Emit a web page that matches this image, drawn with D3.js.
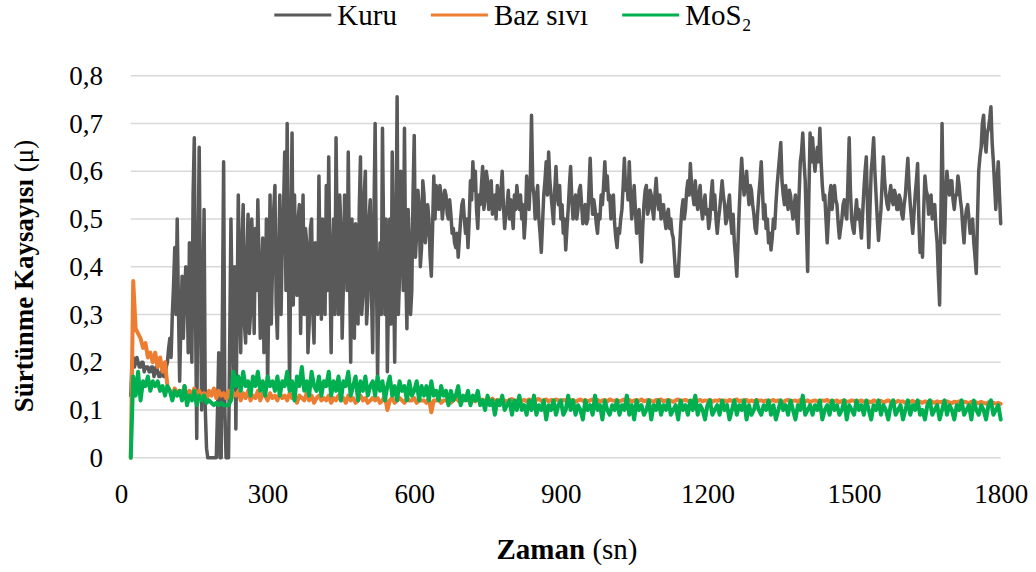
<!DOCTYPE html>
<html>
<head>
<meta charset="utf-8">
<script src="https://cdn.jsdelivr.net/npm/d3@7"></script>
<style>
  body { margin: 0; background: #ffffff; }
  svg text { font-family: "Liberation Serif", "DejaVu Serif", "Noto Serif", Times, serif; fill: #000000; }
</style>
</head>
<body>
<div id="chart"></div>
<script>
var svgWidth = 1036;
var svgHeight = 572;

var margin = {
  top: 75.7,
  right: 35.3,
  bottom: 114.3,
  left: 121
};

var width = svgWidth - margin.left - margin.right;
var height = svgHeight - margin.top - margin.bottom;

var fontStack = "'Liberation Serif', 'DejaVu Serif', 'Noto Serif', Times, serif";

// sample times: first reading at 20 s; dry test read every 2.5 s, the fluids every 5 s
var startTime = 20;
var kuruStep = 2.5;
var fluidStep = 5;

var kuru = [
  0.13, 0.20, 0.21, 0.19, 0.20, 0.21, 0.20, 0.19, 0.19, 0.20, 0.20, 0.18, 0.19, 0.19, 0.19, 0.18, 0.18, 0.19, 0.19, 0.17,
  0.18, 0.19, 0.18, 0.17, 0.17, 0.18, 0.18, 0.17, 0.17, 0.19, 0.20, 0.23, 0.25, 0.21, 0.30, 0.36, 0.44, 0.30, 0.50, 0.32,
  0.16, 0.28, 0.38, 0.25, 0.33, 0.40, 0.38, 0.22, 0.45, 0.30, 0.20, 0.55, 0.67, 0.30, 0.04, 0.40, 0.65, 0.35, 0.10, 0.30,
  0.52, 0.10, 0.02, 0.00, 0.00, 0.00, 0.00, 0.00, 0.00, 0.00, 0.00, 0.10, 0.22, 0.00, 0.00, 0.30, 0.62, 0.10, 0.00, 0.00,
  0.00, 0.25, 0.50, 0.30, 0.15, 0.40, 0.06, 0.30, 0.55, 0.35, 0.22, 0.45, 0.53, 0.28, 0.24, 0.42, 0.51, 0.26, 0.30, 0.50,
  0.44, 0.26, 0.48, 0.35, 0.54, 0.40, 0.25, 0.38, 0.46, 0.22, 0.30, 0.50, 0.15, 0.35, 0.55, 0.28, 0.40, 0.52, 0.57, 0.32,
  0.25, 0.42, 0.55, 0.30, 0.45, 0.52, 0.64, 0.35, 0.70, 0.40, 0.14, 0.45, 0.68, 0.32, 0.55, 0.42, 0.34, 0.50, 0.53, 0.26,
  0.40, 0.55, 0.30, 0.48, 0.45, 0.22, 0.28, 0.48, 0.50, 0.30, 0.24, 0.45, 0.42, 0.30, 0.59, 0.38, 0.29, 0.50, 0.45, 0.30,
  0.57, 0.35, 0.63, 0.40, 0.22, 0.42, 0.50, 0.30, 0.67, 0.45, 0.30, 0.55, 0.48, 0.25, 0.36, 0.55, 0.52, 0.35, 0.64, 0.40,
  0.20, 0.50, 0.42, 0.25, 0.49, 0.38, 0.28, 0.52, 0.63, 0.30, 0.34, 0.55, 0.60, 0.28, 0.33, 0.50, 0.54, 0.35, 0.22, 0.50,
  0.70, 0.40, 0.17, 0.35, 0.45, 0.30, 0.69, 0.45, 0.30, 0.50, 0.18, 0.35, 0.50, 0.28, 0.64, 0.42, 0.20, 0.45, 0.756, 0.30,
  0.38, 0.60, 0.55, 0.35, 0.69, 0.40, 0.27, 0.52, 0.455, 0.30, 0.35, 0.55, 0.675, 0.42, 0.47, 0.56, 0.53, 0.40, 0.44, 0.58,
  0.55, 0.45, 0.48, 0.53, 0.50, 0.42, 0.38, 0.48, 0.59, 0.50, 0.57, 0.53, 0.52, 0.57, 0.55, 0.50, 0.53, 0.56, 0.55, 0.51,
  0.50, 0.54, 0.51, 0.47, 0.48, 0.45, 0.44, 0.47, 0.42, 0.46, 0.50, 0.53, 0.54, 0.50, 0.47, 0.50, 0.44, 0.50, 0.58, 0.54,
  0.62, 0.56, 0.60, 0.52, 0.48, 0.55, 0.53, 0.57, 0.61, 0.52, 0.54, 0.60, 0.58, 0.52, 0.55, 0.58, 0.51, 0.53, 0.55, 0.50,
  0.57, 0.54, 0.52, 0.56, 0.60, 0.53, 0.48, 0.51, 0.53, 0.56, 0.50, 0.54, 0.51, 0.48, 0.55, 0.52, 0.57, 0.54, 0.52, 0.55,
  0.50, 0.53, 0.46, 0.50, 0.59, 0.54, 0.52, 0.58, 0.717, 0.57, 0.55, 0.50, 0.54, 0.57, 0.50, 0.47, 0.43, 0.49, 0.55, 0.58,
  0.62, 0.55, 0.64, 0.58, 0.55, 0.52, 0.49, 0.56, 0.61, 0.55, 0.53, 0.57, 0.50, 0.53, 0.47, 0.50, 0.435, 0.48, 0.52, 0.57,
  0.61, 0.54, 0.50, 0.53, 0.55, 0.50, 0.52, 0.56, 0.57, 0.53, 0.49, 0.52, 0.53, 0.49, 0.50, 0.56, 0.627, 0.55, 0.51, 0.54,
  0.52, 0.49, 0.47, 0.51, 0.50, 0.55, 0.53, 0.57, 0.62, 0.56, 0.59, 0.54, 0.55, 0.50, 0.52, 0.55, 0.49, 0.46, 0.44, 0.48,
  0.47, 0.50, 0.52, 0.57, 0.627, 0.56, 0.58, 0.54, 0.62, 0.55, 0.50, 0.53, 0.57, 0.52, 0.47, 0.50, 0.52, 0.46, 0.41, 0.48,
  0.53, 0.56, 0.57, 0.51, 0.52, 0.56, 0.55, 0.52, 0.50, 0.55, 0.585, 0.54, 0.52, 0.55, 0.50, 0.52, 0.53, 0.50, 0.48, 0.51,
  0.52, 0.48, 0.50, 0.47, 0.46, 0.42, 0.38, 0.40, 0.38, 0.43, 0.48, 0.52, 0.54, 0.50, 0.52, 0.56, 0.58, 0.55, 0.616, 0.57,
  0.55, 0.53, 0.58, 0.54, 0.52, 0.55, 0.57, 0.52, 0.50, 0.53, 0.55, 0.51, 0.52, 0.48, 0.50, 0.55, 0.58, 0.52, 0.55, 0.50,
  0.47, 0.50, 0.52, 0.55, 0.58, 0.55, 0.53, 0.49, 0.50, 0.53, 0.55, 0.50, 0.47, 0.51, 0.45, 0.42, 0.38, 0.45, 0.52, 0.58,
  0.627, 0.58, 0.55, 0.57, 0.60, 0.56, 0.53, 0.57, 0.56, 0.53, 0.51, 0.48, 0.47, 0.51, 0.55, 0.58, 0.62, 0.56, 0.50, 0.53,
  0.48, 0.50, 0.45, 0.47, 0.435, 0.46, 0.50, 0.48, 0.53, 0.57, 0.60, 0.63, 0.66, 0.58, 0.55, 0.53, 0.57, 0.54, 0.52, 0.56,
  0.55, 0.52, 0.50, 0.53, 0.55, 0.50, 0.47, 0.55, 0.62, 0.64, 0.68, 0.62, 0.58, 0.48, 0.39, 0.55, 0.68, 0.62, 0.67, 0.63,
  0.60, 0.63, 0.65, 0.62, 0.69, 0.62, 0.57, 0.54, 0.55, 0.50, 0.45, 0.50, 0.55, 0.57, 0.52, 0.55, 0.57, 0.54, 0.53, 0.49,
  0.46, 0.48, 0.50, 0.53, 0.54, 0.51, 0.50, 0.58, 0.67, 0.56, 0.50, 0.48, 0.47, 0.51, 0.54, 0.50, 0.52, 0.49, 0.46, 0.51,
  0.56, 0.60, 0.63, 0.52, 0.44, 0.52, 0.60, 0.63, 0.67, 0.60, 0.55, 0.50, 0.455, 0.49, 0.52, 0.58, 0.63, 0.58, 0.55, 0.53,
  0.52, 0.55, 0.57, 0.54, 0.53, 0.56, 0.55, 0.52, 0.52, 0.55, 0.54, 0.51, 0.50, 0.53, 0.55, 0.59, 0.627, 0.57, 0.53, 0.50,
  0.47, 0.51, 0.55, 0.58, 0.616, 0.50, 0.43, 0.46, 0.42, 0.52, 0.59, 0.56, 0.55, 0.51, 0.53, 0.55, 0.50, 0.52, 0.53, 0.48,
  0.45, 0.38, 0.32, 0.50, 0.70, 0.52, 0.45, 0.55, 0.60, 0.57, 0.55, 0.58, 0.58, 0.54, 0.52, 0.55, 0.55, 0.59, 0.57, 0.54,
  0.52, 0.48, 0.45, 0.50, 0.52, 0.53, 0.50, 0.47, 0.48, 0.50, 0.45, 0.42, 0.386, 0.50, 0.60, 0.63, 0.65, 0.70, 0.717, 0.66,
  0.64, 0.68, 0.69, 0.71, 0.735, 0.66, 0.62, 0.57, 0.52, 0.58, 0.62, 0.55, 0.49
];

var bazSivi = [
  0.00, 0.37, 0.27, 0.26, 0.25, 0.23, 0.24, 0.21, 0.22, 0.20, 0.22, 0.19, 0.21, 0.18, 0.20, 0.15, 0.14, 0.13, 0.145, 0.135,
  0.14, 0.13, 0.15, 0.125, 0.14, 0.13, 0.145, 0.125, 0.14, 0.13, 0.135, 0.12, 0.14, 0.13, 0.145, 0.125, 0.14, 0.13, 0.135, 0.125,
  0.14, 0.12, 0.135, 0.13, 0.14, 0.12, 0.135, 0.125, 0.14, 0.12, 0.13, 0.125, 0.14, 0.12, 0.135, 0.13, 0.12, 0.135, 0.125, 0.13,
  0.12, 0.135, 0.125, 0.13, 0.12, 0.135, 0.125, 0.13, 0.115, 0.13, 0.125, 0.12, 0.135, 0.12, 0.13, 0.115, 0.125, 0.13, 0.12, 0.125,
  0.12, 0.13, 0.115, 0.125, 0.12, 0.13, 0.12, 0.125, 0.115, 0.13, 0.12, 0.125, 0.115, 0.12, 0.13, 0.12, 0.125, 0.115, 0.12, 0.125,
  0.12, 0.125, 0.115, 0.12, 0.13, 0.10, 0.12, 0.125, 0.115, 0.12, 0.125, 0.12, 0.115, 0.125, 0.12, 0.12, 0.125, 0.115, 0.12, 0.12,
  0.12, 0.115, 0.125, 0.095, 0.12, 0.12, 0.125, 0.115, 0.12, 0.12, 0.125, 0.115, 0.12, 0.125, 0.12, 0.115, 0.12, 0.125, 0.12, 0.12,
  0.121, 0.118, 0.123, 0.119, 0.122, 0.117, 0.121, 0.12, 0.124, 0.118, 0.121, 0.119, 0.122, 0.12, 0.117, 0.121, 0.123, 0.119, 0.12, 0.122,
  0.119, 0.121, 0.118, 0.122, 0.12, 0.117, 0.121, 0.123, 0.119, 0.12, 0.122, 0.118, 0.121, 0.119, 0.122, 0.12, 0.118, 0.121, 0.12, 0.123,
  0.119, 0.121, 0.117, 0.12, 0.122, 0.119, 0.121, 0.118, 0.12, 0.122, 0.119, 0.121, 0.117, 0.12, 0.121, 0.118, 0.122, 0.12, 0.119, 0.121,
  0.118, 0.12, 0.122, 0.119, 0.121, 0.117, 0.12, 0.121, 0.119, 0.122, 0.118, 0.12, 0.121, 0.119, 0.117, 0.121, 0.12, 0.122, 0.118, 0.12,
  0.121, 0.119, 0.117, 0.12, 0.122, 0.118, 0.12, 0.121, 0.119, 0.117, 0.12, 0.122, 0.119, 0.121, 0.118, 0.12, 0.119, 0.121, 0.117, 0.12,
  0.119, 0.121, 0.118, 0.12, 0.117, 0.121, 0.119, 0.12, 0.122, 0.118, 0.12, 0.119, 0.121, 0.117, 0.12, 0.118, 0.121, 0.119, 0.12, 0.118,
  0.12, 0.117, 0.119, 0.121, 0.118, 0.12, 0.119, 0.116, 0.12, 0.121, 0.118, 0.119, 0.12, 0.117, 0.121, 0.119, 0.118, 0.12, 0.116, 0.119,
  0.12, 0.118, 0.117, 0.12, 0.119, 0.121, 0.117, 0.119, 0.118, 0.12, 0.116, 0.119, 0.12, 0.117, 0.118, 0.12, 0.119, 0.116, 0.118, 0.12,
  0.117, 0.119, 0.118, 0.116, 0.12, 0.118, 0.117, 0.119, 0.116, 0.118, 0.12, 0.117, 0.118, 0.116, 0.119, 0.117, 0.118, 0.115, 0.118, 0.117,
  0.119, 0.116, 0.118, 0.117, 0.115, 0.118, 0.116, 0.119, 0.117, 0.115, 0.118, 0.116, 0.117, 0.115, 0.118, 0.116, 0.114, 0.117, 0.116, 0.118,
  0.115, 0.117, 0.116, 0.114, 0.117, 0.115, 0.116, 0.114, 0.117, 0.115, 0.113, 0.116, 0.114, 0.115, 0.113, 0.115, 0.113
];

var mos2 = [
  0.00, 0.17, 0.13, 0.18, 0.12, 0.16, 0.15, 0.17, 0.14, 0.16, 0.15, 0.16, 0.14, 0.15, 0.13, 0.15, 0.14, 0.12, 0.14, 0.13,
  0.14, 0.12, 0.15, 0.11, 0.13, 0.12, 0.14, 0.11, 0.13, 0.12, 0.13, 0.115, 0.12, 0.115, 0.11, 0.115, 0.11, 0.115, 0.11, 0.11,
  0.11, 0.12, 0.18, 0.15, 0.17, 0.14, 0.18, 0.15, 0.16, 0.13, 0.17, 0.15, 0.18, 0.14, 0.16, 0.13, 0.17, 0.15, 0.16, 0.14,
  0.17, 0.13, 0.16, 0.15, 0.18, 0.14, 0.16, 0.12, 0.17, 0.15, 0.19, 0.14, 0.16, 0.13, 0.18, 0.15, 0.14, 0.17, 0.13, 0.16,
  0.15, 0.18, 0.13, 0.16, 0.14, 0.17, 0.12, 0.16, 0.15, 0.18, 0.13, 0.15, 0.17, 0.12, 0.16, 0.14, 0.17, 0.13, 0.15, 0.16,
  0.13, 0.17, 0.14, 0.16, 0.12, 0.15, 0.17, 0.13, 0.15, 0.12, 0.16, 0.14, 0.15, 0.12, 0.16, 0.13, 0.14, 0.16, 0.12, 0.15,
  0.13, 0.15, 0.12, 0.16, 0.13, 0.14, 0.12, 0.15, 0.13, 0.14, 0.11, 0.14, 0.12, 0.13, 0.15, 0.11, 0.13, 0.12, 0.14, 0.11,
  0.13, 0.12, 0.14, 0.11, 0.12, 0.10, 0.13, 0.11, 0.12, 0.09, 0.12, 0.11, 0.13, 0.10, 0.11, 0.12, 0.09, 0.12, 0.10, 0.13,
  0.10, 0.11, 0.09, 0.12, 0.10, 0.13, 0.09, 0.11, 0.10, 0.12, 0.08, 0.11, 0.10, 0.12, 0.09, 0.11, 0.12, 0.09, 0.10, 0.13,
  0.10, 0.12, 0.09, 0.11, 0.10, 0.08, 0.12, 0.10, 0.11, 0.09, 0.13, 0.10, 0.11, 0.08, 0.12, 0.10, 0.09, 0.11, 0.10, 0.12,
  0.09, 0.11, 0.10, 0.13, 0.09, 0.11, 0.08, 0.12, 0.10, 0.11, 0.09, 0.10, 0.12, 0.08, 0.11, 0.10, 0.12, 0.09, 0.11, 0.10,
  0.12, 0.09, 0.10, 0.11, 0.08, 0.12, 0.10, 0.11, 0.09, 0.12, 0.10, 0.13, 0.09, 0.11, 0.10, 0.08, 0.11, 0.12, 0.09, 0.10,
  0.11, 0.09, 0.12, 0.10, 0.11, 0.08, 0.10, 0.12, 0.09, 0.11, 0.10, 0.12, 0.08, 0.11, 0.09, 0.10, 0.12, 0.10, 0.09, 0.11,
  0.10, 0.12, 0.09, 0.11, 0.08, 0.10, 0.12, 0.10, 0.11, 0.09, 0.12, 0.10, 0.08, 0.11, 0.10, 0.13, 0.09, 0.10, 0.11, 0.09,
  0.11, 0.10, 0.12, 0.08, 0.10, 0.11, 0.09, 0.12, 0.10, 0.11, 0.09, 0.10, 0.12, 0.08, 0.11, 0.10, 0.09, 0.12, 0.10, 0.11,
  0.09, 0.12, 0.10, 0.08, 0.11, 0.10, 0.12, 0.09, 0.11, 0.10, 0.08, 0.11, 0.12, 0.09, 0.10, 0.11, 0.08, 0.10, 0.12, 0.09,
  0.11, 0.10, 0.12, 0.09, 0.10, 0.08, 0.11, 0.12, 0.09, 0.10, 0.11, 0.08, 0.10, 0.12, 0.09, 0.11, 0.10, 0.08, 0.11, 0.10,
  0.12, 0.09, 0.10, 0.11, 0.08, 0.12, 0.10, 0.09, 0.11, 0.10, 0.08, 0.11, 0.12, 0.09, 0.10, 0.11, 0.08
];

var seriesNames = ["Kuru", "Baz sıvı", "MoS₂"];
var seriesColors = ["#595959", "#ED7D31", "#00B050"];
var xTicks = [0, 300, 600, 900, 1200, 1500, 1800];
var yTicks = [0, 0.1, 0.2, 0.3, 0.4, 0.5, 0.6, 0.7, 0.8];

var svg = d3.select("#chart")
  .append("svg")
  .attr("width", svgWidth)
  .attr("height", svgHeight)
  .style("font-family", fontStack);

var chartGroup = svg.append("g")
  .attr("transform", `translate(${margin.left}, ${margin.top})`);

// Scales
var xLinearScale = d3.scaleLinear()
  .domain([0, 1800])
  .range([0, width]);

var yLinearScale = d3.scaleLinear()
  .domain([0, 0.8])
  .range([height, 0]);

// Horizontal gridlines (they begin where the data begins)
chartGroup.selectAll(".grid")
  .data(yTicks)
  .enter()
  .append("line")
  .attr("class", "grid")
  .attr("x1", xLinearScale(startTime))
  .attr("x2", xLinearScale(1800))
  .attr("y1", d => yLinearScale(d))
  .attr("y2", d => yLinearScale(d))
  .attr("stroke", "#D9D9D9")
  .attr("stroke-width", 1.5);

// Axes (labels only)
var bottomAxis = d3.axisBottom(xLinearScale)
  .tickValues(xTicks)
  .tickSize(0)
  .tickPadding(26)
  .tickFormat(d3.format("d"));

var leftAxis = d3.axisLeft(yLinearScale)
  .tickValues(yTicks)
  .tickSize(0)
  .tickPadding(18)
  .tickFormat(d => d === 0 ? "0" : d.toFixed(1).replace(".", ","));

var xAxisG = chartGroup.append("g")
  .attr("transform", `translate(0, ${height})`)
  .call(bottomAxis);

var yAxisG = chartGroup.append("g")
  .call(leftAxis);

[xAxisG, yAxisG].forEach(function(g) {
  g.attr("font-family", null);
  g.select(".domain").remove();
  g.selectAll("text")
    .attr("fill", "#000")
    .style("font-family", fontStack)
    .style("font-size", "27px");
});

// Lines
function lineFor(step) {
  return d3.line()
    .x((d, i) => xLinearScale(startTime + i * step))
    .y(d => yLinearScale(d));
}

var seriesList = [
  { values: kuru, step: kuruStep, width: 3.5 },
  { values: bazSivi, step: fluidStep, width: 4 },
  { values: mos2, step: fluidStep, width: 4 }
];

seriesList.forEach(function(s, k) {
  chartGroup.append("path")
    .datum(s.values)
    .attr("d", lineFor(s.step))
    .attr("fill", "none")
    .attr("stroke", seriesColors[k])
    .attr("stroke-width", s.width)
    .attr("stroke-linejoin", "round")
    .attr("stroke-linecap", "round");
});

// Axis titles
var yTitle = svg.append("text")
  .attr("transform", "translate(33, 276) rotate(-90)")
  .attr("text-anchor", "middle")
  .style("font-family", fontStack)
  .style("font-size", "27px");
yTitle.append("tspan").attr("font-weight", "bold").text("Sürtünme Kaysayısı");
yTitle.append("tspan").text(" (μ)");

var xTitle = svg.append("text")
  .attr("x", 567)
  .attr("y", 559)
  .attr("text-anchor", "middle")
  .style("font-family", fontStack)
  .style("font-size", "29px");
xTitle.append("tspan").attr("font-weight", "bold").text("Zaman");
xTitle.append("tspan").text(" (sn)");

// Legend, centred on the picture
var legend = svg.append("g");
var cursor = 0;
seriesNames.forEach(function(name, k) {
  var item = legend.append("g").attr("transform", `translate(${cursor}, 0)`);
  item.append("line")
    .attr("x1", 0)
    .attr("x2", 57)
    .attr("y1", 15)
    .attr("y2", 15)
    .attr("stroke", seriesColors[k])
    .attr("stroke-width", 3);
  var label = item.append("text")
    .attr("x", 63)
    .attr("y", 25)
    .style("font-family", fontStack)
    .style("font-size", "29px")
    .text(name);
  cursor += 63 + label.node().getComputedTextLength() + 34;
});
var legendWidth = cursor - 34;
legend.attr("transform", `translate(${513 - legendWidth / 2}, 0)`);
</script>
</body>
</html>
